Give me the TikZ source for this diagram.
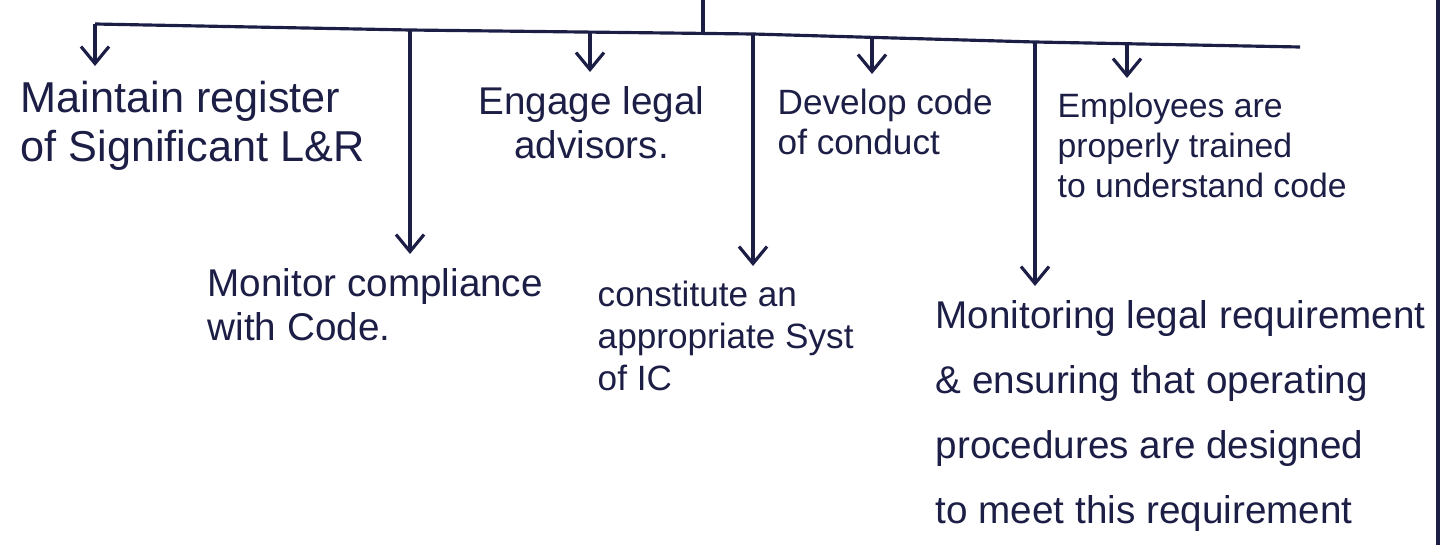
\documentclass[tikz,border=0pt]{standalone}
\usepackage{fontspec}
\setmainfont{Liberation Sans}
\usetikzlibrary{arrows.meta}
\usetikzlibrary{positioning}
\definecolor{ink}{RGB}{28,30,70}

\begin{document}
\begin{tikzpicture}[
      x=0.1mm, y=-0.1mm, >={Straight Barb[length=1.7mm, width=2.8mm]},
      wire/.style={draw=ink, line width=0.9pt},
      note/.style={anchor=north west, align=left, inner sep=0pt, text=ink}]

      \useasboundingbox (0,0) rectangle (1449,545);

      % taps on the bus
      \foreach \n/\x/\y in {L/95/24, 1/95/24, 2/410/30, 3/590/32, 0/703/33,
                            4/753/34, 5/872/37, 6/1035/42, 7/1127/45, R/1300/47}{
        \coordinate (t\n) at (\x,\y);
      }
      \coordinate (top) at (703,0);

      % texts
      \node[note, font=\fontsize{12.3}{14}\selectfont] (maint) at (20,80)
        {Maintain register\\of Significant L\&R};
      \node[note, align=center, font=\fontsize{11}{12.5}\selectfont] (engage) at (478,86)
        {Engage legal\\advisors.};
      \node[note, font=\fontsize{10}{11.5}\selectfont] (develop) at (777,88)
        {Develop code\\of conduct};
      \node[note, font=\fontsize{9.6}{11.5}\selectfont] (staff) at (1057,92)
        {Employees are\\properly trained\\to understand code};
      \node[note, font=\fontsize{11}{12.5}\selectfont] (monitor) at (207,268)
        {Monitor compliance\\with Code.};
      \node[note, font=\fontsize{10}{12}\selectfont] (ic) at (597,280)
        {constitute an\\appropriate Syst\\of IC};
      \node[note, font=\fontsize{11}{18.5}\selectfont] (legal) at (935,300)
        {Monitoring legal requirement\\\& ensuring that operating\\procedures are designed\\to meet this requirement};

      % bus
      \draw[wire] (tL) -- (t2) -- (t4) -- (t6) -- (tR);
      \draw[wire] (top) -- (t0);
      % arrows down
      \foreach \t/\nd in {1/maint, 3/engage, 5/develop, 7/staff,
                          2/monitor, 4/ic, 6/legal}{
        \draw[wire, ->, shorten >=1.4mm] (t\t) -- (t\t |- \nd.north);
      }
      % page edge
      \draw[wire] (1438,0) -- (1438,545);
    \end{tikzpicture}
\end{document}
